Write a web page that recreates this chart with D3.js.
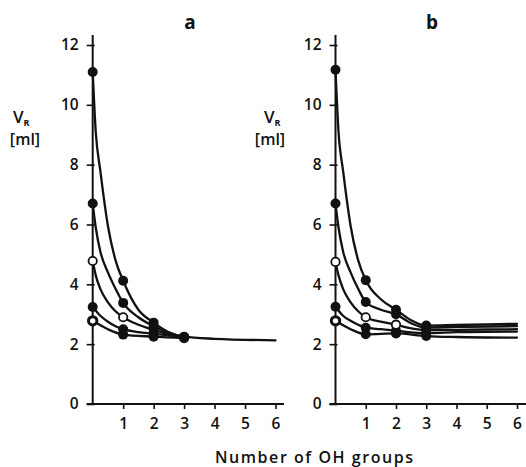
<!DOCTYPE html>
<html><head><meta charset="utf-8">
<script src="https://cdn.jsdelivr.net/npm/d3@7"></script>
<style>
html,body{margin:0;padding:0;background:#fff;}
text{font-family:"Open Sans","DejaVu Sans",sans-serif;fill:#111;}
</style></head>
<body><svg id="c" width="526" height="467"></svg>
<script>
// ---- data ----
const PANELS = ["a", "b"];
const X_TICKS = [1, 2, 3, 4, 5, 6];
const Y_TICKS = [0, 2, 4, 6, 8, 10, 12];
const X_POINTS = [0, 1, 2, 3];

// measured points, panel a (5 series)
const A_S1 = [11.1, 4.12, 2.72, 2.25];
const A_S2 = [6.7, 3.38, 2.6, 2.24];
const A_S3 = [4.78, 2.9, 2.48, 2.23];
const A_S4 = [3.24, 2.5, 2.35, 2.22];
const A_S5 = [2.78, 2.32, 2.25, 2.2];
// measured points, panel b
const B_S1 = [11.17, 4.14, 3.15, 2.62];
const B_S2 = [6.7, 3.41, 3.0, 2.55];
const B_S3 = [4.75, 2.9, 2.65, 2.47];
const B_S4 = [3.25, 2.55, 2.45, 2.37];
const B_S5 = [2.78, 2.33, 2.36, 2.27];
// marker kind per point: 0 filled, 1 open, 2 ring
const A_KIND = [[0,0,0,0],[0,0,0,0],[1,1,0,0],[0,0,0,0],[2,0,0,0]];
const B_KIND = [[0,0,0,0],[0,0,0,0],[1,1,1,0],[0,0,0,0],[2,0,0,0]];

// fitted curves
const A_FIT1 = [[0,11.1],[0.1,9.1],[0.25,7.8],[0.5,5.95],[0.75,4.8],[1,4.12],[1.5,3.15],[2,2.72],[2.5,2.4],[3,2.25],[4,2.18],[6,2.13]];
const A_FIT2 = [[0,6.7],[0.1,5.9],[0.25,5.1],[0.5,4.4],[0.75,3.85],[1,3.38],[1.5,2.9],[2,2.6],[2.5,2.38],[3,2.24]];
const A_FIT3 = [[0,4.78],[0.1,4.3],[0.25,3.85],[0.5,3.4],[0.75,3.1],[1,2.9],[1.5,2.65],[2,2.48],[2.5,2.33],[3,2.23]];
const A_FIT4 = [[0,3.24],[0.25,2.95],[0.5,2.75],[0.75,2.6],[1,2.5],[1.5,2.4],[2,2.35],[3,2.22]];
const A_FIT5 = [[0,2.78],[0.5,2.5],[1,2.32],[2,2.25],[3,2.2]];

const B_FIT1 = [[0,11.17],[0.1,9.1],[0.25,7.8],[0.5,5.95],[0.75,4.8],[1,4.14],[1.5,3.5],[2,3.15],[2.5,2.8],[3,2.62],[4,2.64],[6,2.68]];
const B_FIT2 = [[0,6.7],[0.1,5.9],[0.25,5.1],[0.5,4.4],[0.75,3.85],[1,3.41],[1.5,3.15],[2,3.0],[2.5,2.7],[3,2.55],[4,2.58],[6,2.6]];
const B_FIT3 = [[0,4.75],[0.1,4.3],[0.25,3.85],[0.5,3.4],[0.75,3.1],[1,2.9],[1.5,2.75],[2,2.65],[2.5,2.53],[3,2.47],[4,2.48],[6,2.5]];
const B_FIT4 = [[0,3.25],[0.25,2.95],[0.5,2.78],[0.75,2.65],[1,2.55],[1.5,2.5],[2,2.45],[3,2.37],[4,2.4],[6,2.42]];
const B_FIT5 = [[0,2.78],[0.5,2.5],[1,2.33],[2,2.36],[3,2.27],[4,2.24],[6,2.22]];

// ---- drawing ----
const svg = d3.select("#c");
const y = d3.scaleLinear().domain([0, 12]).range([404, 45]);
const fmt = d3.format("d");

const panelCfg = [
  {name: PANELS[0], x0: 92.7, x6: 275.5, axisEnd: 284, series: [A_S1,A_S2,A_S3,A_S4,A_S5], kinds: A_KIND,
   fits: [A_FIT1,A_FIT2,A_FIT3,A_FIT4,A_FIT5], labelX: 190, vx: 13, mlx: 25},
  {name: PANELS[1], x0: 335.5, x6: 517, axisEnd: 526, series: [B_S1,B_S2,B_S3,B_S4,B_S5], kinds: B_KIND,
   fits: [B_FIT1,B_FIT2,B_FIT3,B_FIT4,B_FIT5], labelX: 432, vx: 264, mlx: 270}
];

panelCfg.forEach(p => {
  const x = d3.scaleLinear().domain([0, 6]).range([p.x0, p.x6]);
  const g = svg.append("g");

  // y axis
  const ya = g.append("g").attr("transform", `translate(${p.x0},0)`)
    .call(d3.axisLeft(y).tickValues(Y_TICKS).tickFormat(fmt).tickSize(6).tickSizeOuter(0).tickPadding(8));
  ya.select(".domain").remove();
  ya.selectAll(".tick line").attr("stroke", "#111").attr("stroke-width", 1.6).attr("x2", -6).attr("x1", 2);
  ya.selectAll(".tick text").attr("font-size", 15.5).attr("font-weight", 600).attr("fill", "#111")
    .attr("font-family", '"Open Sans",sans-serif');
  g.append("line").attr("x1", p.x0).attr("x2", p.x0).attr("y1", 35).attr("y2", y(0))
    .attr("stroke", "#111").attr("stroke-width", 2);

  // x axis
  const xa = g.append("g").attr("transform", `translate(0,${y(0)})`)
    .call(d3.axisBottom(x).tickValues(X_TICKS).tickFormat(fmt).tickSize(5).tickSizeOuter(0).tickPadding(9));
  xa.select(".domain").remove();
  xa.selectAll(".tick line").attr("stroke", "#111").attr("stroke-width", 1.6);
  xa.selectAll(".tick text").attr("font-size", 15.5).attr("font-weight", 600).attr("fill", "#111")
    .attr("font-family", '"Open Sans",sans-serif');
  g.append("line").attr("x1", p.x0 - 6).attr("x2", p.axisEnd).attr("y1", y(0)).attr("y2", y(0))
    .attr("stroke", "#111").attr("stroke-width", 2);

  // panel label
  g.append("text").attr("x", p.labelX).attr("y", 29).attr("text-anchor", "middle")
    .attr("font-size", 19).attr("font-weight", 700).text(p.name);

  // y label V_R [ml]
  const vt = g.append("text").attr("x", p.vx).attr("y", 123).attr("font-size", 17).attr("font-weight", 600);
  vt.append("tspan").text("V");
  vt.append("tspan").attr("dy", 3).attr("font-size", 9).attr("font-weight", 700).text("R");
  g.append("text").attr("x", p.mlx).attr("y", 145).attr("text-anchor", "middle")
    .attr("font-size", 16).attr("font-weight", 600).text("[ml]");

  // curves
  const line = d3.line().x(d => x(d[0])).y(d => y(d[1])).curve(d3.curveMonotoneX);
  g.selectAll("path.fit").data(p.fits).enter().append("path").attr("class", "fit")
    .attr("d", line).attr("fill", "none").attr("stroke", "#111").attr("stroke-width", 2.3)
    .attr("stroke-linecap", "round");

  // markers
  const pts = [];
  p.series.forEach((s, si) => s.forEach((v, i) => pts.push({x: X_POINTS[i], v, k: p.kinds[si][i]})));
  pts.sort((a, b) => (a.k > 0) - (b.k > 0));
  g.selectAll("circle.pt").data(pts).enter().append("circle").attr("class", "pt")
    .attr("cx", d => x(d.x)).attr("cy", d => y(d.v))
    .attr("r", d => d.k === 0 ? 5 : 4.2)
    .attr("fill", d => d.k === 0 ? "#111" : "#fff")
    .attr("stroke", "#111")
    .attr("stroke-width", d => d.k === 0 ? 0 : (d.k === 1 ? 1.8 : 3));
});

// x axis title
svg.append("text").attr("x", 314).attr("y", 463).attr("text-anchor", "middle")
  .attr("font-size", 16).attr("font-weight", 600).attr("textLength", 198).attr("lengthAdjust", "spacing")
  .text("Number of OH groups");
</script></body></html>
